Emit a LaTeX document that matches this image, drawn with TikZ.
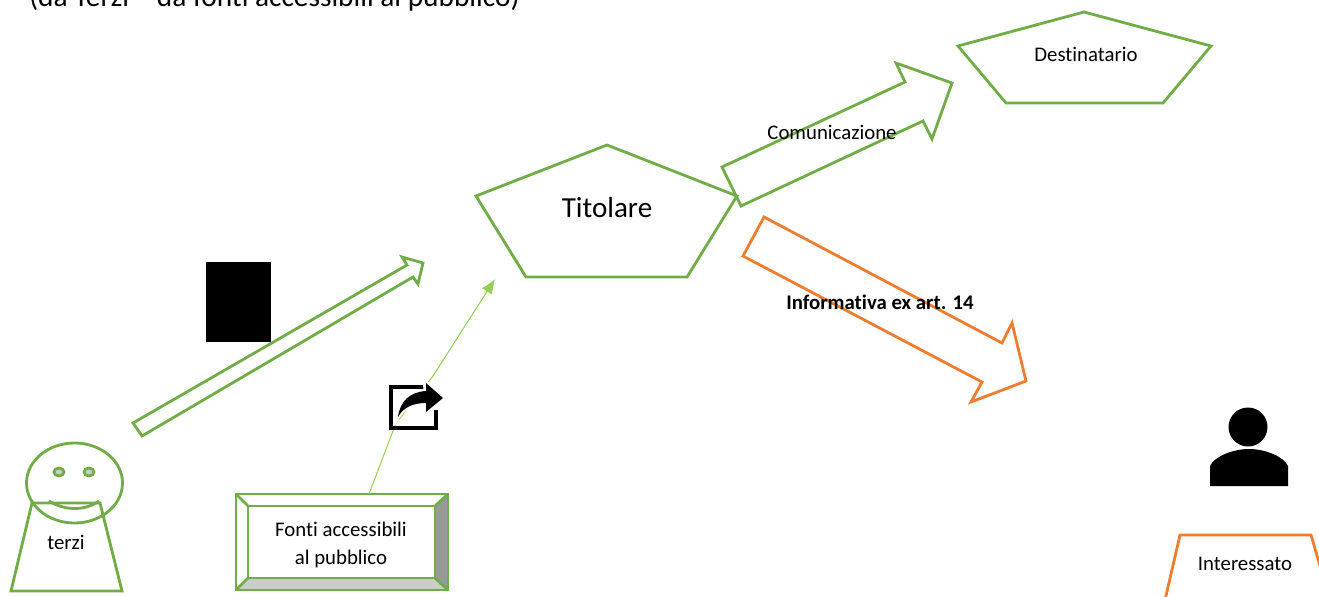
\documentclass[tikz,border=0pt]{standalone}
\usetikzlibrary{arrows.meta}
\usepackage{fontspec}
\setmainfont[Ligatures=NoCommon]{Carlito}
\definecolor{leafgreen}{HTML}{70AD47}
\definecolor{lightgreen}{HTML}{92D050}
\definecolor{warmorange}{HTML}{ED7D31}
\tikzset{
  greenline/.style={draw=leafgreen, line width=2.1pt, line join=miter},
  orangeline/.style={draw=warmorange, line width=2.1pt},
  label/.style={inner sep=0pt, text=black, align=center, font=\fontsize{15.6}{21.5}\selectfont}
}
\begin{document}
\begin{tikzpicture}[x=0.75pt, y=-0.75pt]
  \useasboundingbox (0,0) rectangle (1319,596);
  \clip (0,0) rectangle (1319,596);
  \node (heading) [anchor=base west, inner sep=0pt, font=\fontsize{22}{26}\selectfont] at (29,7) {(da Terzi -- da fonti accessibili al pubblico)};
  % titolare and destinatario
  \draw [greenline] (607,145) -- (737,196) -- (687,277) -- (526,277) -- (476,196) -- cycle;
  \node (titolare) [inner sep=0pt, font=\fontsize{21.8}{26}\selectfont] at (607,208) {Titolare};
  \draw [greenline] (1084,12) -- (1211,46) -- (1163,103) -- (1006,103) -- (958,46) -- cycle;
  \node (destinatario) [label] at (1086,54) {Destinatario};
  % block arrows
  \draw [greenline] (133,423) -- (407,265) -- (402,257) -- (423,263) -- (418,284) -- (413,277) -- (142,436) -- cycle;
  \draw [greenline] (722,167) -- (905,82) -- (896,63) -- (952,83) -- (932,139) -- (923,121) -- (741,206) -- cycle;
  \node (comunicazione) [label] at (832,132) {Comunicazione};
  \draw [orangeline] (764,217) -- (1002,343) -- (1012,323) -- (1026,381) -- (971,402) -- (982,382) -- (743,256) -- cycle;
  \node (informativa) [label, font=\fontsize{15.6}{21.5}\selectfont\bfseries] at (880,302) {Informativa ex art. 14};
  % terzi
  \draw [greenline] (74.5,483) ellipse (48 and 40);
  \draw [greenline, fill=black!20] (59,472) ellipse (5 and 4);
  \draw [greenline, fill=black!20] (89,472) ellipse (5 and 4);
  \draw [greenline] (49,501) .. controls (65,511) and (85,511) .. (99,501);
  \draw [greenline] (32,503) -- (100,503) -- (122,591) -- (11,591) -- cycle;
  \node (terzi) [label] at (66,542) {terzi};
  % fonti
  \coordinate (outernw) at (236,494);
  \coordinate (outerne) at (448,494);
  \coordinate (outersw) at (236,590);
  \coordinate (outerse) at (448,590);
  \coordinate (innernw) at (248,506);
  \coordinate (innerne) at (435,506);
  \coordinate (innersw) at (248,578);
  \coordinate (innerse) at (435,578);
  \fill [black!20] (outersw) -- (innersw) -- (innerse) -- (outerse) -- cycle;
  \fill [black!40] (outerne) -- (innerne) -- (innerse) -- (outerse) -- cycle;
  \draw [greenline] (outernw) rectangle (outerse);
  \draw [greenline] (innernw) rectangle (innerse);
  \foreach \corner in {nw, ne, sw, se}
    \draw [greenline] (outer\corner) -- (inner\corner);
  \node (fonti) [label] at (341,545) {Fonti accessibili\\al pubblico};
  \coordinate (fontitop) at (369,494);
  \coordinate (bendlow) at (396,423);
  \coordinate (bendhigh) at (433,376);
  \coordinate (titolaretip) at (495,279);
  \draw [draw=lightgreen, line width=0.75pt, -{Latex[length=11pt,width=9pt]}] (fontitop) -- (bendlow) -- (bendhigh) -- (titolaretip);
  % black figures
  \fill (206,262) rectangle (271,342);
  \draw [black, line width=2.4pt] (423,387) -- (391,387) -- (391,428) -- (436,428) -- (436,410);
  \path [draw=white, line width=3pt, fill=black] (398,417) .. controls (400,401) and (410,392) .. (426,391) -- (426,383) -- (443,398) -- (426,412) -- (426,403) .. controls (412,403) and (403,408) .. (398,417) -- cycle;
  \fill (398,417) .. controls (400,401) and (410,392) .. (426,391) -- (426,383) -- (443,398) -- (426,412) -- (426,403) .. controls (412,403) and (403,408) .. (398,417) -- cycle;
  % interessato
  \fill (1248,427) circle (19.5);
  \fill (1210,486) -- (1210,466) .. controls (1214,457) and (1232,449) .. (1249,449) .. controls (1266,449) and (1284,457) .. (1288,466) -- (1288,486) -- cycle;
  \draw [orangeline] (1165,600) -- (1180,535) -- (1311,535) -- (1330,600);
  \node (interessato) [label] at (1245,564) {Interessato};
\end{tikzpicture}
\end{document}
